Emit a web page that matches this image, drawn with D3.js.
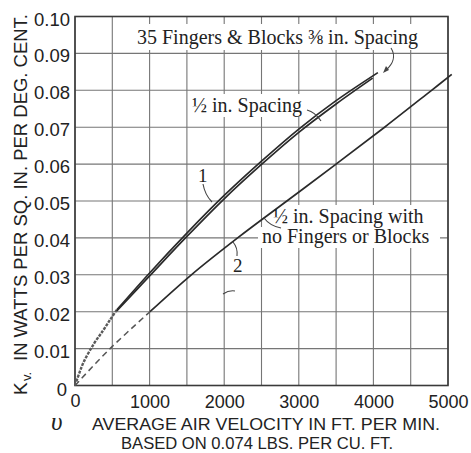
<!DOCTYPE html>
<html><head><meta charset="utf-8">
<script src="https://cdn.jsdelivr.net/npm/d3@7"></script>
<style>body{margin:0;background:#fff}svg{display:block}</style>
</head><body><svg id="c" width="471" height="453"></svg>
<script>
// ---- data ----
const vGrid = [0,500,1000,1500,2000,2500,3000,3500,4000,4500,5000];
const kGrid = [0,0.01,0.02,0.03,0.04,0.05,0.06,0.07,0.08,0.09,0.10];
const xTickValues = [0,1000,2000,3000,4000,5000];
const xTickLabels = ["0","1000","2000","3000","4000","5000"];
const yTickValues = [0,0.01,0.02,0.03,0.04,0.05,0.06,0.07,0.08,0.09,0.10];
const yTickLabels = ["0","0.01","0.02","0.03","0.04","0.05","0.06","0.07","0.08","0.09","0.10"];

// curve 1: rough start (merged), then two close lines
const c1RoughV = [0,60,120,250,380,470,560];
const c1RoughK = [0,0.0035,0.0065,0.0112,0.015,0.0178,0.0205];
const c1aV = [560,1000,1500,2000,2500,3000,3500,4060];      // 35 Fingers & Blocks 3/8 in.
const c1aK = [0.0205,0.0305,0.0413,0.0515,0.0608,0.0695,0.0772,0.0848];
const c1bV = [560,1000,1500,2000,2500,3000,3500,3990];      // 1/2 in. Spacing
const c1bK = [0.0202,0.0297,0.0404,0.0506,0.0599,0.0686,0.0763,0.0833];
// curve 2: dashed start then solid
const c2DashV = [0,470,1005];
const c2DashK = [0,0.01,0.02];
const c2V = [1005,1560,2180,2840,3500,4150,4780,5050];
const c2K = [0.02,0.03,0.04,0.05,0.06,0.07,0.08,0.0843];

// ---- chart ----
const svg = d3.select("#c");
const x = d3.scaleLinear().domain([0,5000]).range([75,448]);
const y = d3.scaleLinear().domain([0,0.10]).range([385.5,16.5]);
const ink = "#2a2a2a";

// grid
const g = svg.append("g");
g.selectAll("line.v").data(vGrid).join("line")
  .attr("x1",d=>x(d)).attr("x2",d=>x(d)).attr("y1",y(0)).attr("y2",y(0.10))
  .attr("stroke","#767676").attr("stroke-width",1.1);
g.selectAll("line.h").data(kGrid).join("line")
  .attr("y1",d=>y(d)).attr("y2",d=>y(d)).attr("x1",x(0)).attr("x2",x(5000))
  .attr("stroke","#767676").attr("stroke-width",1.1);
svg.append("rect").attr("x",x(0)).attr("y",y(0.10)).attr("width",x(5000)-x(0)).attr("height",y(0)-y(0.10))
  .attr("fill","none").attr("stroke","#3a3a3a").attr("stroke-width",1.6);

// white label boxes
const boxes = [[131,24,296,26],[188,94,121,23],[270,205,163,22],[258,227,182,21]];
svg.selectAll("rect.box").data(boxes).join("rect")
  .attr("x",d=>d[0]).attr("y",d=>d[1]).attr("width",d=>d[2]).attr("height",d=>d[3]).attr("fill","#fff");

// curves
const line = d3.line().x(d=>x(d[0])).y(d=>y(d[1])).curve(d3.curveCatmullRom.alpha(0.5));
const zip = (a,b)=>a.map((v,i)=>[v,b[i]]);
svg.append("path").attr("d",line(zip(c1RoughV,c1RoughK))).attr("fill","none")
  .attr("stroke","#5a5a5a").attr("stroke-width",2.4).attr("stroke-dasharray","3,1.2");
svg.append("path").attr("d",line(zip(c1aV,c1aK))).attr("fill","none").attr("stroke",ink).attr("stroke-width",1.7);
svg.append("path").attr("d",line(zip(c1bV,c1bK))).attr("fill","none").attr("stroke",ink).attr("stroke-width",1.7);
svg.append("path").attr("d",line(zip(c2DashV,c2DashK))).attr("fill","none").attr("stroke","#555")
  .attr("stroke-width",1.5).attr("stroke-dasharray","6,4");
svg.append("path").attr("d",line(zip(c2V,c2K))).attr("fill","none").attr("stroke",ink).attr("stroke-width",1.7);

// axes (labels only)
const sans = "Liberation Sans, Arial, sans-serif";
const serif = "Liberation Serif, Times New Roman, serif";
const xAxis = d3.axisBottom(x).tickValues(xTickValues).tickFormat((d,i)=>xTickLabels[i]).tickSize(0).tickPadding(0);
const xa = svg.append("g").attr("transform",`translate(0,${y(0)})`).call(xAxis);
xa.select(".domain").remove();
xa.selectAll("text").attr("y",22).attr("dy",0).attr("font-family",sans)
  .attr("font-size",18).attr("fill","#222");
xa.selectAll("text").filter((d,i)=>i===0).attr("y",21);

const yAxis = d3.axisLeft(y).tickValues(yTickValues).tickFormat((d,i)=>yTickLabels[i]).tickSize(0).tickPadding(0);
const ya = svg.append("g").attr("transform",`translate(70,0)`).call(yAxis);
ya.select(".domain").remove();
ya.selectAll("text").attr("dy","0.46em").attr("font-family",sans)
  .attr("font-size",18.5).attr("fill","#222");
ya.selectAll("text").filter((d,i)=>i===0).attr("x",-3).attr("dy","0.52em");

// axis titles
svg.append("text").attr("x",51).attr("y",430).attr("font-family",serif).attr("font-style","italic")
  .attr("font-size",25).attr("fill","#222").text("υ");
svg.append("text").attr("x",92).attr("y",430).attr("font-family",sans).attr("font-size",17)
  .attr("textLength",348).attr("lengthAdjust","spacingAndGlyphs").attr("fill","#222")
  .text("AVERAGE AIR VELOCITY IN FT. PER MIN.");
svg.append("text").attr("x",121).attr("y",448.5).attr("font-family",sans).attr("font-size",16.5)
  .attr("textLength",272).attr("lengthAdjust","spacingAndGlyphs").attr("fill","#222")
  .text("BASED ON 0.074 LBS. PER CU. FT.");

const yt = svg.append("g").attr("transform","translate(27,395) rotate(-90)");
yt.append("text").attr("x",0).attr("y",0).attr("font-family",sans).attr("font-size",19).attr("fill","#222").text("K");
yt.append("text").attr("x",14).attr("y",4).attr("font-family",sans).attr("font-size",13).attr("fill","#222").text("v.");
yt.append("text").attr("x",34).attr("y",0).attr("font-family",sans).attr("font-size",19)
  .attr("textLength",347).attr("lengthAdjust","spacingAndGlyphs").attr("fill","#222")
  .text("IN WATTS PER SQ. IN. PER DEG. CENT.");

// annotations
const ann = svg.append("g").attr("font-family",serif).attr("fill","#222");
ann.append("text").attr("x",137).attr("y",44).attr("font-size",20).text("35 Fingers & Blocks ⅜ in. Spacing");
ann.append("text").attr("x",192).attr("y",112).attr("font-size",20).text("½ in. Spacing");
ann.append("text").attr("x",273).attr("y",223).attr("font-size",20).text("½ in. Spacing with");
ann.append("text").attr("x",262).attr("y",243).attr("font-size",20).text("no Fingers or Blocks");
ann.append("text").attr("x",198).attr("y",182).attr("font-size",19).text("1");
ann.append("text").attr("x",233).attr("y",272).attr("font-size",19).text("2");

const ptr = svg.append("g").attr("fill","none").attr("stroke","#444").attr("stroke-width",1.1);
ptr.append("path").attr("d","M391,48 C396,56 393,64 386,70");
ptr.append("path").attr("d","M307,110 Q315,112 321,121");
ptr.append("path").attr("d","M203,184 Q205,195 212,202");
ptr.append("path").attr("d","M237,256 Q238,248 233,242");
ptr.append("path").attr("d","M281,228 Q270,226 264,218");
ptr.append("path").attr("d","M223,294 Q229,290 235,291");
svg.append("path").attr("d","M383,73 L386,66 L389,70 Z").attr("fill","#444");
</script></body></html>
